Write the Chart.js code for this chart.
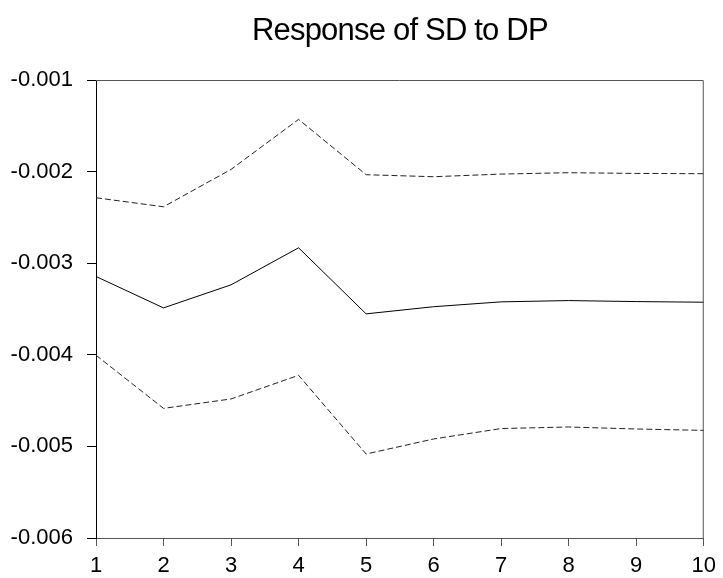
<!DOCTYPE html>
<html>
<head>
<meta charset="utf-8">
<script src="https://cdn.jsdelivr.net/npm/chart.js@4.4.1/dist/chart.umd.min.js"></script>
<style>
  html, body { margin: 0; padding: 0; background: #ffffff; }
  #wrap { width: 723px; height: 578px; }
</style>
</head>
<body>
<div id="wrap"><canvas id="c" width="723" height="578"></canvas></div>
<script>
// Impulse response of SD to a shock in DP, with +/- 2 S.E. bands
const chartTitle = 'Response of SD to DP';
const periods = ['1', '2', '3', '4', '5', '6', '7', '8', '9', '10'];
const response = [-0.003145, -0.003488, -0.003236, -0.002832, -0.003553,
                  -0.003475, -0.003422, -0.003408, -0.003419, -0.003426];
const upperBand = [-0.002286, -0.002384, -0.001976, -0.001430, -0.002034,
                   -0.002056, -0.002027, -0.002012, -0.002020, -0.002023];
const lowerBand = [-0.004005, -0.004585, -0.004482, -0.004224, -0.005083,
                   -0.004919, -0.004805, -0.004788, -0.004810, -0.004825];
const yMin = -0.006, yMax = -0.001, yStep = 0.001;

const FONT = "'Liberation Sans', Arial, sans-serif";

// Frame on top/right sides plus centred heading over the plot area
const framePlugin = {
  id: 'frame',
  afterDraw(chart) {
    const { ctx, chartArea: a } = chart;
    ctx.save();
    ctx.strokeStyle = '#555555';
    ctx.lineWidth = 1;
    ctx.beginPath();
    ctx.moveTo(a.left, a.top + 0.5);
    ctx.lineTo(a.right - 0.5, a.top + 0.5);
    ctx.lineTo(a.right - 0.5, a.bottom);
    ctx.stroke();
    ctx.fillStyle = '#000000';
    ctx.font = '31px ' + FONT;
    if ('letterSpacing' in ctx) ctx.letterSpacing = '-0.8px';
    ctx.textAlign = 'center';
    ctx.textBaseline = 'alphabetic';
    ctx.fillText(chartTitle, (a.left + a.right) / 2, 40);
    ctx.restore();
  }
};

const bandStyle = {
  borderColor: '#222222',
  borderWidth: 1,
  borderDash: [6, 3],
  pointRadius: 0,
  fill: false,
  tension: 0
};

new Chart(document.getElementById('c'), {
  type: 'line',
  data: {
    labels: periods,
    datasets: [
      { label: 'Response', data: response, borderColor: '#000000', borderWidth: 1, pointRadius: 0, fill: false, tension: 0 },
      Object.assign({ label: 'Upper', data: upperBand }, bandStyle),
      Object.assign({ label: 'Lower', data: lowerBand }, bandStyle)
    ]
  },
  options: {
    responsive: false,
    animation: false,
    devicePixelRatio: 1,
    layout: { padding: { top: 80, right: 15, bottom: 0, left: 0 } },
    plugins: {
      legend: { display: false },
      title: { display: false },
      tooltip: { enabled: false }
    },
    scales: {
      x: {
        type: 'category',
        offset: false,
        grid: { drawOnChartArea: false, drawTicks: true, tickLength: 8, tickColor: '#555555' },
        border: { display: true, color: '#555555', width: 1 },
        ticks: { color: '#000000', font: { family: FONT, size: 22 }, padding: 7, maxRotation: 0, autoSkip: false },
        afterFit(scale) { scale.height = 40; }
      },
      y: {
        type: 'linear',
        min: yMin,
        max: yMax,
        grid: { drawOnChartArea: false, drawTicks: true, tickLength: 9, tickColor: '#000000' },
        border: { display: true, color: '#000000', width: 1 },
        ticks: {
          stepSize: yStep,
          color: '#000000',
          font: { family: FONT, size: 22 },
          padding: 14,
          callback: (v) => v.toFixed(3)
        },
        afterFit(scale) { scale.width = 96; }
      }
    }
  },
  plugins: [framePlugin]
});
</script>
</body>
</html>
